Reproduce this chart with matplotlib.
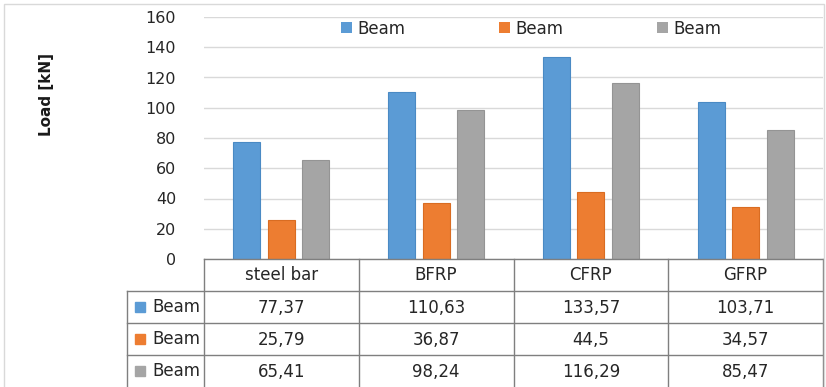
import matplotlib
matplotlib.use("Agg")
import matplotlib.pyplot as plt
from matplotlib.patches import Rectangle, Patch
import numpy as np

categories = ["steel bar", "BFRP", "CFRP", "GFRP"]
series_names = ["Beam", "Beam", "Beam"]
load_1 = [77.37, 110.63, 133.57, 103.71]
load_2 = [25.79, 36.87, 44.5, 34.57]
load_3 = [65.41, 98.24, 116.29, 85.47]
colors = ["#5B9BD5", "#ED7D31", "#A5A5A5"]
edges = ["#4A8AC4", "#D96C22", "#949494"]

W, H = 826, 387
plt.rcParams["font.family"] = "DejaVu Sans"
text_col = "#262626"
line_col = "#7f7f7f"

fig = plt.figure(figsize=(W / 100, H / 100), dpi=100)

# chart frame
fig.add_artist(Rectangle((4 / W, -0.1), 820 / W, 1.1 - 4 / H, transform=fig.transFigure,
                         fill=False, ec="#d9d9d9", lw=1))

# plot area in pixels
left, right, top, bottom = 204, 823, 17, 259
ax = fig.add_axes([left / W, 1 - bottom / H, (right - left) / W, (bottom - top) / H])

x = np.arange(len(categories))
bw = 0.174
step = 0.223
series = [load_1, load_2, load_3]
for i, vals in enumerate(series):
    ax.bar(x + (i - 1) * step, vals, width=bw, color=colors[i], edgecolor=edges[i],
           linewidth=0.8, label=series_names[i], zorder=3)

ax.set_xlim(-0.5, len(categories) - 0.5)
ax.set_ylim(0, 160)
ax.set_yticks(np.arange(0, 161, 20))
ax.set_xticks([])
ax.tick_params(axis="y", length=0, pad=20, labelsize=11.5, labelcolor=text_col)
ax.yaxis.grid(True, color="#d9d9d9", lw=1)
ax.set_axisbelow(True)
for s in ax.spines.values():
    s.set_visible(False)

fig.text(46 / W, 1 - 95 / H, "Load [kN]", rotation=90, ha="center", va="center",
         fontsize=11, fontweight="bold", color="#1a1a1a")

keys = [Patch(facecolor=c, edgecolor="none") for c in colors]
fig.legend(handles=keys, labels=series_names, ncol=3, loc="center",
           bbox_to_anchor=(531 / W, 1 - 28.5 / H), frameon=False, fontsize=12,
           handlelength=0.65, handleheight=0.65, handletextpad=0.35,
           columnspacing=5.6, labelcolor=text_col)

# data table under the axis
tleft = 127
row_h = 32
tax = fig.add_axes([tleft / W, 0, (right - tleft) / W, (H - bottom) / H])
unit = (right - left) / len(categories)
x0 = -0.5 - (left - tleft) / unit
tax.set_xlim(x0, len(categories) - 0.5)
tax.set_ylim((H - bottom) / row_h, 0)
tax.axis("off")

ncat = len(categories)
tax.plot([-0.5, ncat - 0.5], [0, 0], color=line_col, lw=1, clip_on=False)
for r in range(1, 4):
    tax.plot([x0, ncat - 0.5], [r, r], color=line_col, lw=1, clip_on=False)
for c in range(ncat + 1):
    tax.plot([c - 0.5, c - 0.5], [0, 4.2], color=line_col, lw=1, clip_on=False)
tax.plot([x0, x0], [1, 4.2], color=line_col, lw=1, clip_on=False)

for j, cat in enumerate(categories):
    tax.text(j, 0.5, cat, ha="center", va="center", fontsize=12, color=text_col)

sq_w = 10 / unit
sq_h = 10 / row_h
for i, vals in enumerate(series):
    yc = 1.5 + i
    tax.add_patch(Rectangle((x0 + 8 / unit, yc - sq_h / 2), sq_w, sq_h, color=colors[i]))
    tax.text(x0 + 25 / unit, yc, series_names[i], ha="left", va="center", fontsize=12,
             color=text_col)
    for j, v in enumerate(vals):
        tax.text(j, yc + 0.03, str(v).replace(".", ","), ha="center", va="center",
                 fontsize=12, color=text_col)

fig.savefig("out.png", dpi=100)
